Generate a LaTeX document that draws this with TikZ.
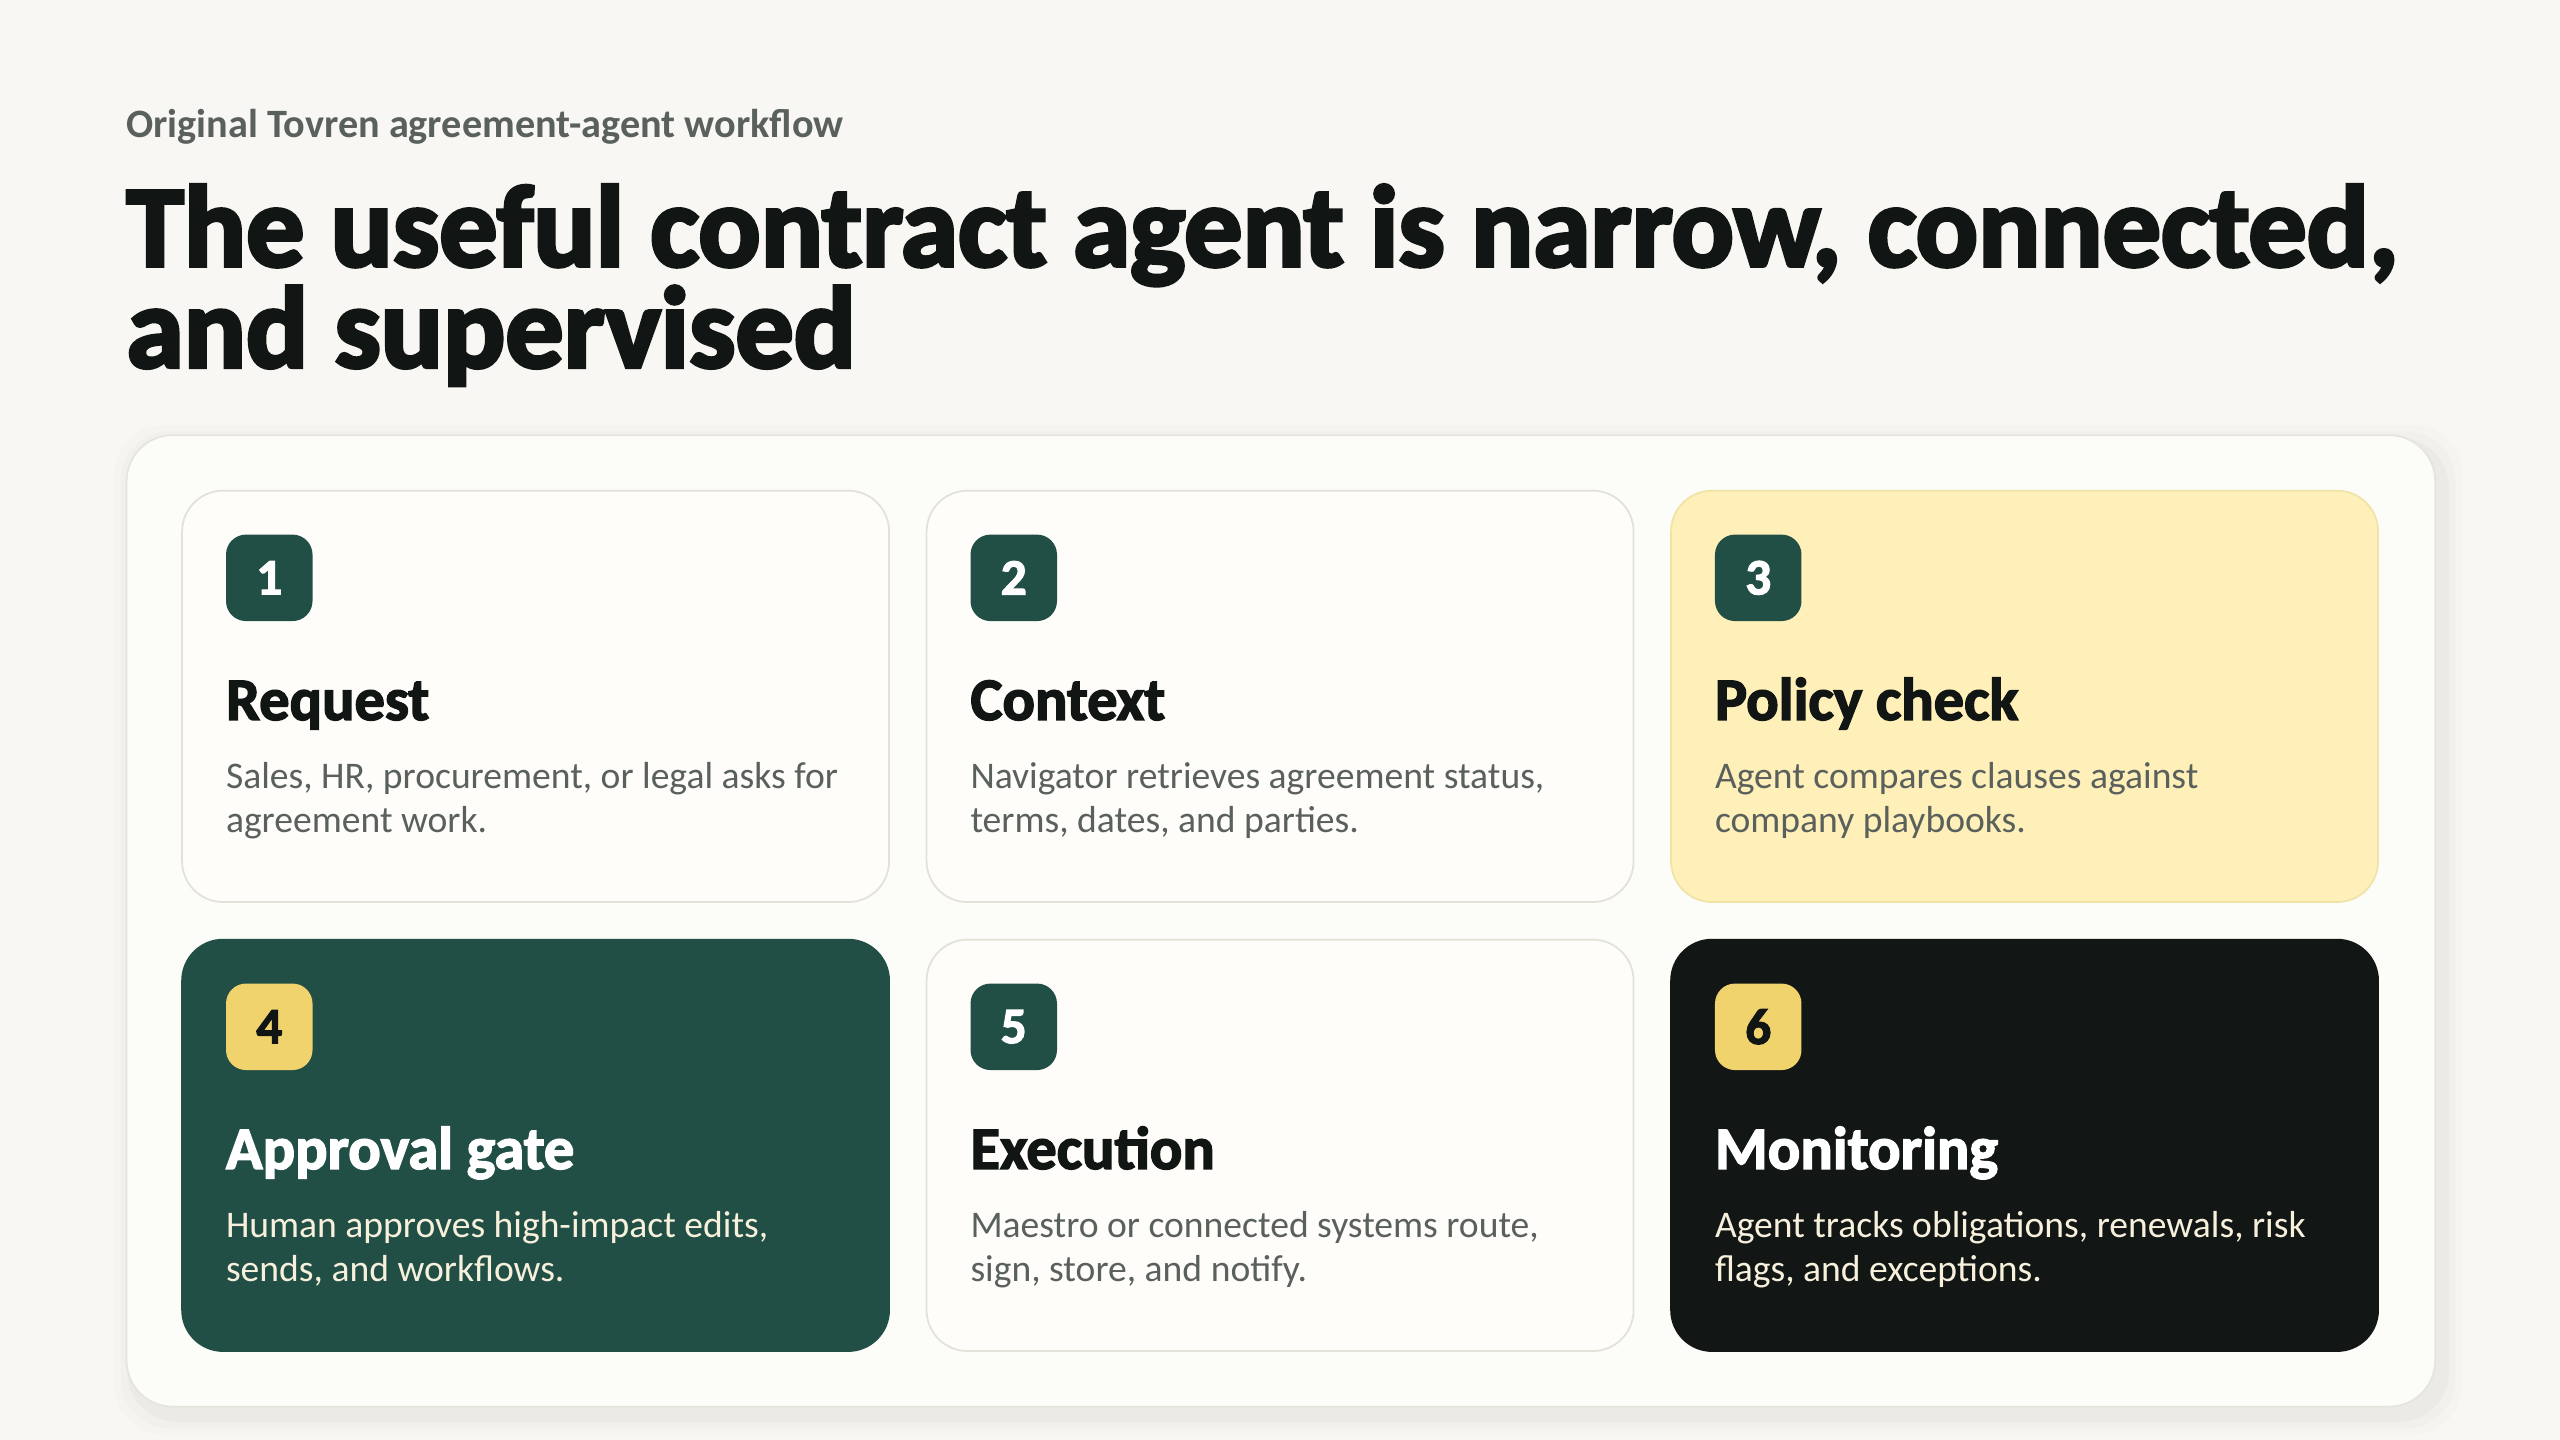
\documentclass[tikz,border=0pt]{standalone}
\usepackage{fontspec}
\setmainfont{Carlito}
\newfontfamily\heavyfont{Carlito}[BoldFeatures={FakeBold=2.4}]
\newfontfamily\blackfont{Carlito}[BoldFeatures={FakeBold=3.2}]
\usetikzlibrary{positioning}

\definecolor{pagebg}{HTML}{F8F7F3}
\definecolor{panelbg}{HTML}{FCFCF8}
\definecolor{panelline}{HTML}{E6E4DC}
\definecolor{cardbg}{HTML}{FEFDF9}
\definecolor{cardline}{HTML}{E3E1D8}
\definecolor{paleyellow}{HTML}{FEF0B8}
\definecolor{yellowline}{HTML}{F1E3A6}
\definecolor{forest}{HTML}{214F46}
\definecolor{nightblack}{HTML}{121614}
\definecolor{gold}{HTML}{F0D36C}
\definecolor{inkdark}{HTML}{111614}
\definecolor{bodygray}{HTML}{5A615D}
\definecolor{cream}{HTML}{F6F0DC}

\begin{document}
\begin{tikzpicture}[x=0.016327cm, y=-0.016327cm,
   panel/.style={fill=panelbg, draw=panelline, line width=0.5pt, rounded corners=0.46cm,
     minimum width=23.086cm, minimum height=9.715cm, anchor=north west, inner sep=0pt},
   card/.style={fill=cardbg, draw=cardline, line width=0.5pt, rounded corners=0.41cm,
     minimum width=7.07cm, minimum height=4.114cm, anchor=north west, inner sep=0pt},
   badge/.style={fill=forest, text=white, rounded corners=0.2cm, minimum width=0.865cm,
     minimum height=0.865cm, anchor=north west, inner sep=0pt,
     font=\heavyfont\bfseries\fontsize{14.5}{14.5}\selectfont},
   goldbadge/.style={badge, fill=gold, text=inkdark},
   heading/.style={anchor=base west, inner sep=0pt, text=inkdark,
     font=\heavyfont\bfseries\fontsize{17.2}{18}\selectfont},
   body/.style={anchor=base west, inner sep=0pt, align=left, text=bodygray,
     font=\fontsize{10.7}{12.55}\selectfont}]

  % page and bounding box
  \fill[pagebg] (0,0) rectangle (1568,882);
  \useasboundingbox (0,0) rectangle (1568,882);

  % title block (multi-line nodes sit on their last baseline)
  \node[anchor=base west, inner sep=0pt, text=bodygray,
        font=\bfseries\fontsize{11.45}{12}\selectfont] (kicker) at (77,84)
        {Original Tovren agreement-agent workflow};
  \node[anchor=base west, inner sep=0pt, align=left, text=inkdark,
        font=\blackfont\bfseries\fontsize{33}{28.8}\selectfont] (title) at (77,225)
        {The useful contract agent is narrow, connected,\\and supervised};

  % soft shadow under the panel
  \foreach \s/\o in {12/0.010, 8/0.016, 4/0.022}
    \fill[black, opacity=\o, rounded corners=0.5cm] (77-\s+5,266-\s+6) rectangle (1491+\s+5,861+\s+6);
  \node[panel] (panel) at (77,266) {};

  % cards, top row
  \node[card] (request) at (111,300) {};
  \node[card] (context) at (567,300) {};
  \node[card, fill=paleyellow, draw=yellowline] (policy) at (1023,300) {};
  % cards, bottom row
  \node[card, fill=forest, draw=forest] (approval) at (111,575) {};
  \node[card] (execution) at (567,575) {};
  \node[card, fill=nightblack, draw=nightblack] (monitor) at (1023,575) {};

  % step numbers
  \node[badge] (n1) at (138,327) {1};
  \node[badge] (n2) at (594,327) {2};
  \node[badge] (n3) at (1050,327) {3};
  \node[goldbadge] (n4) at (138,602) {4};
  \node[badge] (n5) at (594,602) {5};
  \node[goldbadge] (n6) at (1050,602) {6};

  % headings
  \node[heading] (h1) at (138,441) {Request};
  \node[heading] (h2) at (594,441) {Context};
  \node[heading] (h3) at (1050,441) {Policy check};
  \node[heading, text=white] (h4) at (138,716) {Approval gate};
  \node[heading] (h5) at (594,716) {Execution};
  \node[heading, text=white] (h6) at (1050,716) {Monitoring};

  % descriptions
  \node[body] (d1) at (138,510) {Sales, HR, procurement, or legal asks for\\agreement work.};
  \node[body] (d2) at (594,510) {Navigator retrieves agreement status,\\terms, dates, and parties.};
  \node[body] (d3) at (1050,510) {Agent compares clauses against\\company playbooks.};
  \node[body, text=cream] (d4) at (138,785) {Human approves high-impact edits,\\sends, and workflows.};
  \node[body] (d5) at (594,785) {Maestro or connected systems route,\\sign, store, and notify.};
  \node[body, text=cream] (d6) at (1050,785) {Agent tracks obligations, renewals, risk\\flags, and exceptions.};

\end{tikzpicture}
\end{document}
